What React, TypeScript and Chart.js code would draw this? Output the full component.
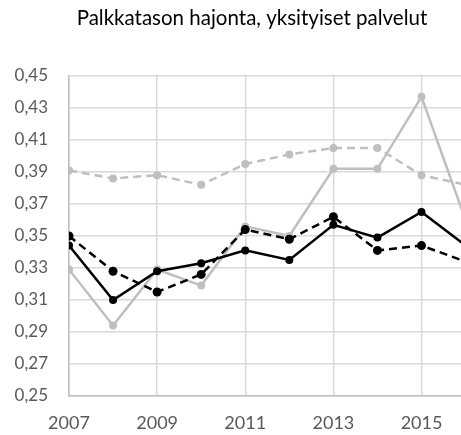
import React, { useEffect, useRef } from "react";
import { Chart, registerables } from "chart.js";

Chart.register(...registerables);

const years = [2007, 2008, 2009, 2010, 2011, 2012, 2013, 2014, 2015, 2016];
const xTickYears = [2007, 2009, 2011, 2013, 2015];
const yTicks = [0.25, 0.27, 0.29, 0.31, 0.33, 0.35, 0.37, 0.39, 0.41, 0.43, 0.45];

const blackSolid = [0.344, 0.31, 0.328, 0.333, 0.341, 0.335, 0.357, 0.349, 0.365, 0.344];
const blackDashed = [0.35, 0.328, 0.315, 0.326, 0.354, 0.348, 0.362, 0.341, 0.344, 0.334];
const graySolid = [0.329, 0.294, 0.329, 0.319, 0.356, 0.35, 0.392, 0.392, 0.437, 0.36];
const grayDashed = [0.391, 0.386, 0.388, 0.382, 0.395, 0.401, 0.405, 0.405, 0.388, 0.382];

const titleText = "Palkkatason hajonta, yksityiset palvelut";
const FONT = "Lato, 'Open Sans', sans-serif";

const toPoints = (vals: number[]) => vals.map((v, i) => ({ x: years[i], y: v }));

const titlePlugin = {
  id: "centeredTitle",
  afterDraw(chart: any) {
    const ctx = chart.ctx;
    ctx.save();
    ctx.font = `normal 20.5px ${FONT}`;
    ctx.fillStyle = "#000000";
    ctx.textAlign = "center";
    ctx.textBaseline = "middle";
    ctx.fillText(titleText, 252, 18);
    ctx.restore();
  },
};

export default function App() {
  const ref = useRef<HTMLCanvasElement | null>(null);

  useEffect(() => {
    if (!ref.current) return;
    const gray = "#bfbfbf";
    const mk = (label: string, vals: number[], color: string, dashed: boolean, r: number) => ({
      label,
      data: toPoints(vals),
      borderColor: color,
      backgroundColor: color,
      pointBackgroundColor: color,
      pointBorderColor: color,
      pointRadius: r,
      pointBorderWidth: 0,
      borderWidth: 2.5,
      borderDash: dashed ? [8, 5] : [],
      tension: 0,
      fill: false,
    });
    const chart = new Chart(ref.current, {
      type: "line",
      data: {
        datasets: [
          mk("Musta yhtenäinen", blackSolid, "#000000", false, 4),
          mk("Musta katkoviiva", blackDashed, "#000000", true, 4.5),
          mk("Harmaa yhtenäinen", graySolid, gray, false, 4),
          mk("Harmaa katkoviiva", grayDashed, gray, true, 4),
        ],
      },
      plugins: [titlePlugin],
      options: {
        responsive: false,
        animation: false,
        layout: { padding: { top: 76, left: 0, right: 0, bottom: 0 } },
        plugins: {
          legend: { display: false },
          tooltip: { enabled: false },
          title: { display: false },
        },
        scales: {
          x: {
            type: "linear",
            min: 2007,
            max: 2016.77,
            afterBuildTicks: (s: any) => {
              s.ticks = xTickYears.map((v) => ({ value: v }));
            },
            afterFit: (s: any) => {
              s.height = 39;
            },
            grid: { color: "#d9d9d9", lineWidth: 1.5, drawTicks: false },
            border: { color: gray, width: 1.5 },
            ticks: {
              color: "#595959",
              font: { family: FONT, size: 18 },
              padding: 16,
              maxRotation: 0,
              callback: (v: any) => String(v),
            },
          },
          y: {
            min: 0.25,
            max: 0.45,
            afterBuildTicks: (s: any) => {
              s.ticks = yTicks.map((v) => ({ value: v }));
            },
            afterFit: (s: any) => {
              s.width = 69;
            },
            grid: { color: "#d9d9d9", lineWidth: 1.5, drawTicks: false },
            border: { color: gray, width: 1.5 },
            ticks: {
              color: "#595959",
              font: { family: FONT, size: 17 },
              padding: 21,
              callback: (v: any) => Number(v).toFixed(2).replace(".", ","),
            },
          },
        },
      },
    });
    return () => chart.destroy();
  }, []);

  return (
    <div style={{ position: "fixed", left: 0, top: 0, width: 461, height: 435, overflow: "hidden", background: "#fff" }}>
      <div style={{ width: 504, height: 435 }}>
        <canvas ref={ref} width={504} height={435} style={{ display: "block", width: 504, height: 435 }} />
      </div>
    </div>
  );
}
